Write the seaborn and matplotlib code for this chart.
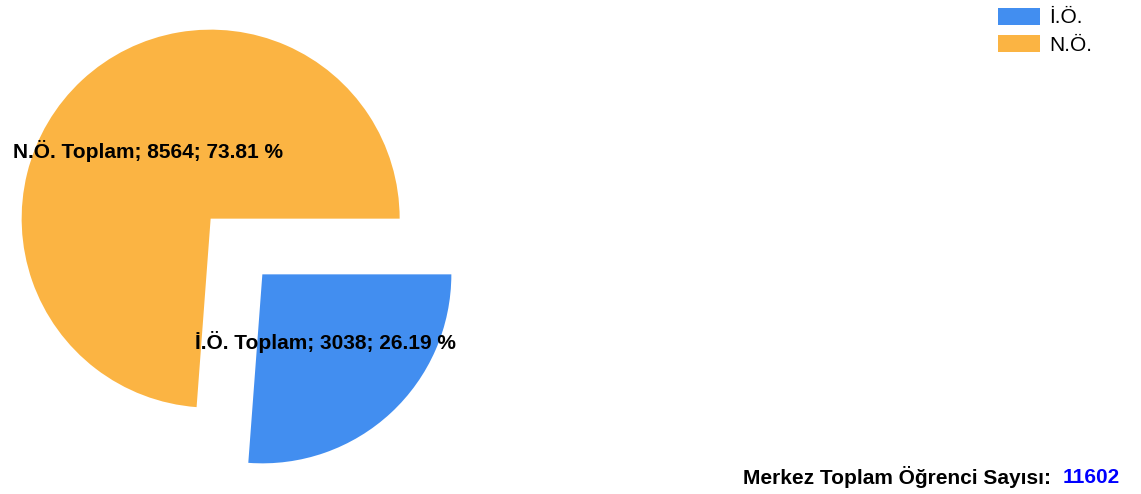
import matplotlib
matplotlib.use("Agg")
import matplotlib.pyplot as plt
import seaborn as sns
from matplotlib.patches import Patch

# data
categories = ["İ.Ö.", "N.Ö."]
counts = [3038, 8564]
colors = ["#428ef0", "#fbb443"]
total_label = "Merkez Toplam Öğrenci Sayısı: "
total = sum(counts)

sns.set_theme(style="white")
plt.rcParams['font.family'] = ['Liberation Sans', 'DejaVu Sans']

W, H = 1141, 494
fig = plt.figure(figsize=(W / 100, H / 100), dpi=100)
ax = fig.add_axes([0, 0, 1, 1])

labels = [f"{c} Toplam; {v}; {v / total * 100:.2f} %" for c, v in zip(categories, counts)]
# explode is in data units here (pixels)
wedges, texts = ax.pie(counts, colors=colors, labels=labels, startangle=0, counterclock=False,
                       explode=[38, 38], center=(236.5, H - 246.5), radius=189,
                       labeldistance=0.49, frame=True,
                       wedgeprops=dict(edgecolor="none"),
                       textprops=dict(fontsize=15, fontweight="bold", color="black"))
for t in texts:
    t.set_ha("center")
    t.set_va("center")
ax.set_xlim(0, W)
ax.set_ylim(0, H)
ax.set_aspect("equal")
ax.axis("off")

handles = [Patch(facecolor=c, edgecolor="none") for c in colors]
fig.legend(handles, categories, loc="upper right", bbox_to_anchor=(1107 / W, 1 + 7 / H),
           frameon=False, fontsize=15, handlelength=2.0, handleheight=0.9,
           handletextpad=0.45, labelspacing=0.35, borderpad=0.2, labelcolor="black")

fig.text(1057 / W, 1 - 477 / H, total_label, ha="right", va="center",
         fontsize=15, fontweight="bold", color="black")
fig.text(1063 / W, 1 - 477 / H, str(total), ha="left", va="center",
         fontsize=15, fontweight="bold", color="#0000ff")

fig.savefig("out.png", dpi=100)
